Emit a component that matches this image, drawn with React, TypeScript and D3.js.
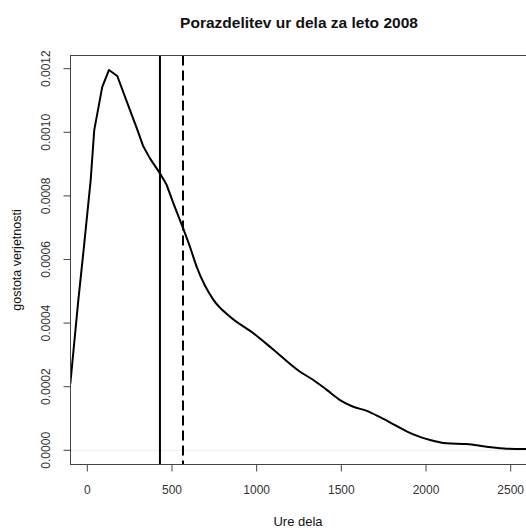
import React from "react";
import * as d3 from "d3";

const hours = [-100, -53, -20, 20, 41, 88, 128, 177, 252, 292, 331, 370, 429, 469, 508, 567, 606, 646, 745, 843, 981, 1089, 1256, 1335, 1414, 1492, 1571, 1650, 1729, 1827, 1925, 2024, 2122, 2240, 2358, 2476, 2600];
const density = [0.000211, 0.000472, 0.000639, 0.00085, 0.001007, 0.001142, 0.001196, 0.001177, 0.00107, 0.001013, 0.000955, 0.000918, 0.000871, 0.000834, 0.000777, 0.000696, 0.00064, 0.000577, 0.000473, 0.00042, 0.000368, 0.000321, 0.000247, 0.000221, 0.00019, 0.000158, 0.000137, 0.000124, 0.000104, 0.0000764, 0.0000503, 0.0000324, 0.000022, 0.0000198, 0.0000113, 0.000005, 0.000004];
const xTicks = [0, 500, 1000, 1500, 2000, 2500];
const yTicks = [0, 0.0002, 0.0004, 0.0006, 0.0008, 0.001, 0.0012];
const medianLine = 429;
const meanLine = 565;
const title = "Porazdelitev ur dela za leto 2008";
const xLabel = "Ure dela";
const yLabel = "gostota verjetnosti";

export default function App() {
  const W = 526, H = 528;
  const left = 70.5, right = 527, top = 55.5, bottom = 464.5;
  const x = d3.scaleLinear().domain([0, 2500]).range([87.3, 87.3 + 0.16935 * 2500]);
  const y = d3.scaleLinear().domain([0, 0.0012]).range([450.3, 450.3 - 6 * 63.6]);
  const pts = hours.map((h, i) => [h, density[i]] as [number, number]);
  const split = 15;
  const headPts = pts.slice(0, split + 1);
  const tailPts = pts.slice(split);
  const lineLin = d3.line<[number, number]>().x(d => x(d[0])).y(d => y(d[1])).curve(d3.curveLinear);
  const lineSmooth = d3.line<[number, number]>().x(d => x(d[0])).y(d => y(d[1])).curve(d3.curveMonotoneX);
  const font = "'Liberation Sans', Arial, Helvetica, sans-serif";
  return (
    <svg width={W} height={H} style={{ position: "absolute", left: 0, top: 0, background: "#fff" }} fontFamily={font}>
      <rect x={0} y={0} width={W} height={H} fill="#fff" />
      <defs>
        <clipPath id="plot">
          <rect x={left} y={top} width={right - left} height={bottom - top} />
        </clipPath>
      </defs>
      <text x={299} y={28} textAnchor="middle" fontSize={15.5} fontWeight="bold" fill="#111">{title}</text>
      <line x1={left} x2={right} y1={y(0)} y2={y(0)} stroke="#eee" strokeWidth={1} />
      <g clipPath="url(#plot)">
        <path d={lineLin(headPts) || ""} fill="none" stroke="#000" strokeWidth={2} strokeLinejoin="round" strokeLinecap="round" />
        <path d={lineSmooth(tailPts) || ""} fill="none" stroke="#000" strokeWidth={2} strokeLinejoin="round" strokeLinecap="round" />
        <line x1={x(medianLine)} x2={x(medianLine)} y1={top} y2={bottom} stroke="#000" strokeWidth={2} />
        <line x1={x(meanLine)} x2={x(meanLine)} y1={top} y2={bottom} stroke="#000" strokeWidth={2} strokeDasharray="10,5" />
      </g>
      <rect x={left} y={top} width={right - left} height={bottom - top} fill="none" stroke="#444" strokeWidth={1} />
      {xTicks.map(t => (
        <g key={"x" + t}>
          <line x1={x(t)} x2={x(t)} y1={bottom} y2={bottom + 7} stroke="#444" />
          <text x={x(t)} y={494} textAnchor="middle" fontSize={12} fill="#333">{t}</text>
        </g>
      ))}
      {yTicks.map(t => (
        <g key={"y" + t}>
          <line x1={left - 7} x2={left} y1={y(t)} y2={y(t)} stroke="#444" />
          <text transform={`translate(50,${y(t)}) rotate(-90)`} textAnchor="middle" fontSize={12} fill="#333">{t.toFixed(4)}</text>
        </g>
      ))}
      <text x={298} y={526} textAnchor="middle" fontSize={13} fill="#111">{xLabel}</text>
      <text transform={`translate(21,${(top + bottom) / 2}) rotate(-90)`} textAnchor="middle" fontSize={12.5} fill="#111">{yLabel}</text>
    </svg>
  );
}
